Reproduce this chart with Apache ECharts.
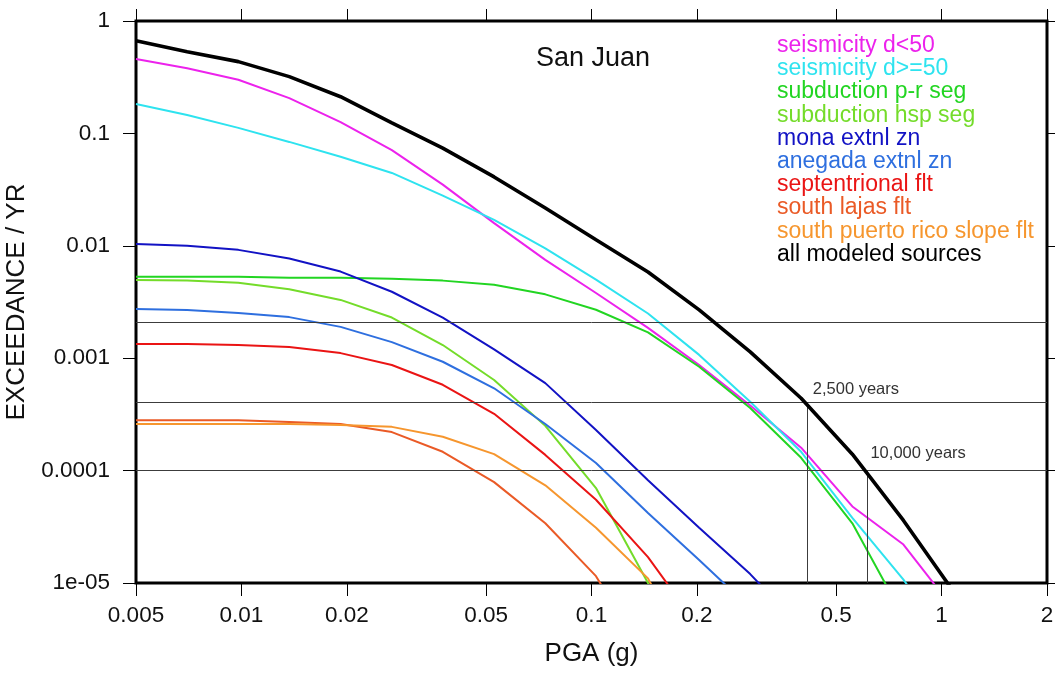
<!DOCTYPE html>
<html>
<head>
<meta charset="utf-8">
<title>San Juan hazard curves</title>
<script src="https://cdn.jsdelivr.net/npm/echarts@6/dist/echarts.min.js"></script>
<style>
  html, body { margin: 0; padding: 0; background: #ffffff; }
  #chart { width: 1055px; height: 675px; }
</style>
</head>
<body>
<div id="chart"></div>
<script>
// Peak ground acceleration levels (g) at which each source's annual exceedance rate is given
const pga = [0.005, 0.007, 0.0098, 0.0137, 0.0192, 0.0269, 0.0376, 0.0527, 0.0738, 0.103, 0.145, 0.203, 0.284, 0.397, 0.556, 0.778, 1.09];

// Annual exceedance rates per source (values below 1e-05 continue off the bottom of the plot)
const seismicityShallow = [0.46, 0.38, 0.30, 0.206, 0.126, 0.071, 0.035, 0.0159, 0.0075, 0.0038, 0.00186, 8.7e-4, 3.8e-4, 1.6e-4, 4.8e-5, 2.2e-5, 5.7e-6];
const seismicityDeep = [0.183, 0.146, 0.112, 0.084, 0.062, 0.0445, 0.028, 0.017, 0.0095, 0.0050, 0.0025, 0.00107, 4.1e-4, 1.47e-4, 3.8e-5, 1.07e-5, 2.5e-6];
const subductionPR = [0.0053, 0.0053, 0.0053, 0.0052, 0.0052, 0.0051, 0.0049, 0.0045, 0.0037, 0.0027, 0.0017, 8.4e-4, 3.6e-4, 1.3e-4, 3.4e-5, 5e-6, 1e-6];
const subductionHSP = [0.00497, 0.0049, 0.0047, 0.0041, 0.0033, 0.0023, 0.00131, 6.4e-4, 2.5e-4, 7e-5, 1.0e-5, 1.5e-6];
const monaExtensional = [0.0104, 0.0100, 0.0092, 0.0077, 0.0059, 0.0039, 0.0023, 0.0012, 6.0e-4, 2.3e-4, 8.2e-5, 3.1e-5, 1.2e-5, 4e-6];
const anegadaExtensional = [0.00274, 0.00268, 0.00253, 0.00232, 0.0019, 0.00139, 9.3e-4, 5.4e-4, 2.6e-4, 1.17e-4, 4.2e-5, 1.6e-5, 6e-6];
const septentrionalFault = [0.00134, 0.00134, 0.00131, 0.00126, 0.00111, 8.7e-4, 5.8e-4, 3.2e-4, 1.38e-4, 5.5e-5, 1.7e-5, 4e-6];
const southLajasFault = [2.8e-4, 2.8e-4, 2.8e-4, 2.7e-4, 2.6e-4, 2.2e-4, 1.47e-4, 7.9e-5, 3.4e-5, 1.15e-5, 2e-6];
const southPRSlopeFault = [2.6e-4, 2.6e-4, 2.6e-4, 2.6e-4, 2.55e-4, 2.45e-4, 2.0e-4, 1.4e-4, 7.4e-5, 3.1e-5, 1.1e-5, 1.5e-6];
const allSources = [0.668, 0.533, 0.435, 0.32, 0.212, 0.124, 0.074, 0.041, 0.0217, 0.0113, 0.00585, 0.00269, 0.00114, 4.4e-4, 1.4e-4, 3.6e-5, 8.1e-6];

const sourceNames = [
  'seismicity d<50', 'seismicity d>=50', 'subduction p-r seg', 'subduction hsp seg',
  'mona extnl zn', 'anegada extnl zn', 'septentrional flt', 'south lajas flt',
  'south puerto rico slope flt', 'all modeled sources'
];
const sourceRates = [
  seismicityShallow, seismicityDeep, subductionPR, subductionHSP, monaExtensional,
  anegadaExtensional, septentrionalFault, southLajasFault, southPRSlopeFault, allSources
];
const sourceColors = [
  '#ec22ec', '#2ee3ef', '#22d522', '#74dc2a', '#1212c4',
  '#2e6fdf', '#ea1414', '#ea5a26', '#f6962e', '#000000'
];

// Axis ticks
const xTickValues = [0.005, 0.01, 0.02, 0.05, 0.1, 0.2, 0.5, 1, 2];
const xTickLabels = ['0.005', '0.01', '0.02', '0.05', '0.1', '0.2', '0.5', '1', '2'];
const yTickValues = [1e-5, 1e-4, 1e-3, 1e-2, 0.1, 1];
const yTickLabels = ['1e-05', '0.0001', '0.001', '0.01', '0.1', '1'];

// Return-period reference levels: annual rate, PGA, label
const levelRates = [0.0021, 0.000404, 0.0001];
const levelPGA = [null, 0.412, 0.614];
const levelLabels = ['', '2,500 years', '10,000 years'];

const X_MIN = 0.005, X_MAX = 2, Y_MIN = 1e-5, Y_MAX = 1;
const FONT = '"Liberation Sans", Arial, Helvetica, sans-serif';

function tickText(values, labels, v) {
  for (let i = 0; i < values.length; i++) {
    if (Math.abs(values[i] - v) / values[i] < 1e-6) return labels[i];
  }
  return '';
}

// Reference lines: full-width horizontal rates, vertical drops from the total curve
const markLineData = levelRates.map(r => [{ coord: [X_MIN, r] }, { coord: [X_MAX, r] }]);
levelPGA.forEach((x, i) => {
  if (x !== null) {
    markLineData.push([{ coord: [x, levelRates[i]] }, { coord: [x, Y_MIN] }]);
  }
});
const labelOffsets = [null, [6, -13], [3, -17]];
const markPointData = [];
levelPGA.forEach((x, i) => {
  if (x !== null) {
    markPointData.push({
      coord: [x, levelRates[i]],
      label: { formatter: levelLabels[i], offset: labelOffsets[i] }
    });
  }
});

const series = sourceNames.map((name, k) => {
  const isTotal = k === sourceNames.length - 1;
  return {
    name: name,
    type: 'line',
    data: sourceRates[k].map((v, i) => [pga[i], v]),
    symbol: 'none',
    smooth: false,
    clip: true,
    z: isTotal ? 5 : 3,
    lineStyle: { color: sourceColors[k], width: isTotal ? 3.6 : 2 },
    itemStyle: { color: sourceColors[k] },
    emphasis: { disabled: true }
  };
});

// Reference lines and their labels
series.push({
  name: 'reference levels',
  type: 'line',
  data: [],
  z: 1,
  silent: true,
  markLine: {
    silent: true,
    animation: false,
    symbol: ['none', 'none'],
    label: { show: false },
    lineStyle: { color: '#3c3c3c', width: 1, type: 'solid' },
    emphasis: { disabled: true },
    data: markLineData
  },
  markPoint: {
    silent: true,
    animation: false,
    symbol: 'circle',
    symbolSize: 0,
    itemStyle: { color: 'rgba(0,0,0,0)' },
    label: {
      show: true,
      position: 'right',
      distance: 0,
      color: '#333333',
      fontFamily: FONT,
      fontSize: 16.5
    },
    data: markPointData
  }
});

const chart = echarts.init(document.getElementById('chart'), null, { renderer: 'canvas' });

const sharedX = { type: 'log', logBase: 10, min: X_MIN, max: X_MAX };
const sharedY = { type: 'log', logBase: 10, min: Y_MIN, max: Y_MAX };

chart.setOption({
  animation: false,
  backgroundColor: '#ffffff',
  textStyle: { fontFamily: FONT },
  title: {
    text: 'San Juan',
    left: 531,
    top: 40,
    textStyle: { fontFamily: FONT, fontSize: 27, fontWeight: 'normal', color: '#111111' }
  },
  legend: {
    orient: 'vertical',
    left: 772,
    top: 34,
    padding: 0,
    itemGap: 0,
    itemWidth: 0,
    itemHeight: 23,
    icon: 'rect',
    itemStyle: { color: 'rgba(0,0,0,0)', borderWidth: 0 },
    textStyle: { fontFamily: FONT, fontSize: 23, lineHeight: 23.2 },
    data: sourceNames.map((name, k) => ({ name: name, textStyle: { color: sourceColors[k] } }))
  },
  grid: {
    left: 136, top: 21, right: 8, bottom: 92,
    show: true,
    borderColor: '#000000',
    borderWidth: 3,
    backgroundColor: 'transparent',
    containLabel: false,
    outerBoundsMode: 'none'
  },
  xAxis: [
    Object.assign({}, sharedX, {
      position: 'bottom',
      name: 'PGA (g)',
      nameLocation: 'middle',
      nameGap: 58,
      nameTextStyle: { fontFamily: FONT, fontSize: 26, color: '#111111' },
      axisLine: { show: false },
      axisTick: { show: true, inside: false, length: 13, customValues: xTickValues,
                  lineStyle: { color: '#000000', width: 1 } },
      minorTick: { show: false },
      splitLine: { show: false },
      axisLabel: {
        show: true, margin: 21, customValues: xTickValues,
        fontFamily: FONT, fontSize: 22.5, color: '#111111',
        formatter: v => tickText(xTickValues, xTickLabels, v)
      }
    }),
    Object.assign({}, sharedX, {
      position: 'top',
      axisLine: { show: false },
      axisTick: { show: true, inside: false, length: 12, customValues: xTickValues,
                  lineStyle: { color: '#000000', width: 1 } },
      axisLabel: { show: false },
      splitLine: { show: false }
    })
  ],
  yAxis: [
    Object.assign({}, sharedY, {
      position: 'left',
      name: 'EXCEEDANCE / YR',
      nameLocation: 'middle',
      nameGap: 94,
      nameTextStyle: { fontFamily: FONT, fontSize: 26, color: '#111111' },
      axisLine: { show: false },
      axisTick: { show: true, inside: false, length: 13, customValues: yTickValues,
                  lineStyle: { color: '#000000', width: 1 } },
      minorTick: { show: false },
      splitLine: { show: false },
      axisLabel: {
        show: true, margin: 26, customValues: yTickValues,
        fontFamily: FONT, fontSize: 22.5, color: '#111111',
        formatter: v => tickText(yTickValues, yTickLabels, v)
      }
    }),
    Object.assign({}, sharedY, {
      position: 'right',
      axisLine: { show: false },
      axisTick: { show: true, inside: false, length: 12, customValues: yTickValues,
                  lineStyle: { color: '#000000', width: 1 } },
      axisLabel: { show: false },
      splitLine: { show: false }
    })
  ],
  series: series
});
</script>
</body>
</html>
